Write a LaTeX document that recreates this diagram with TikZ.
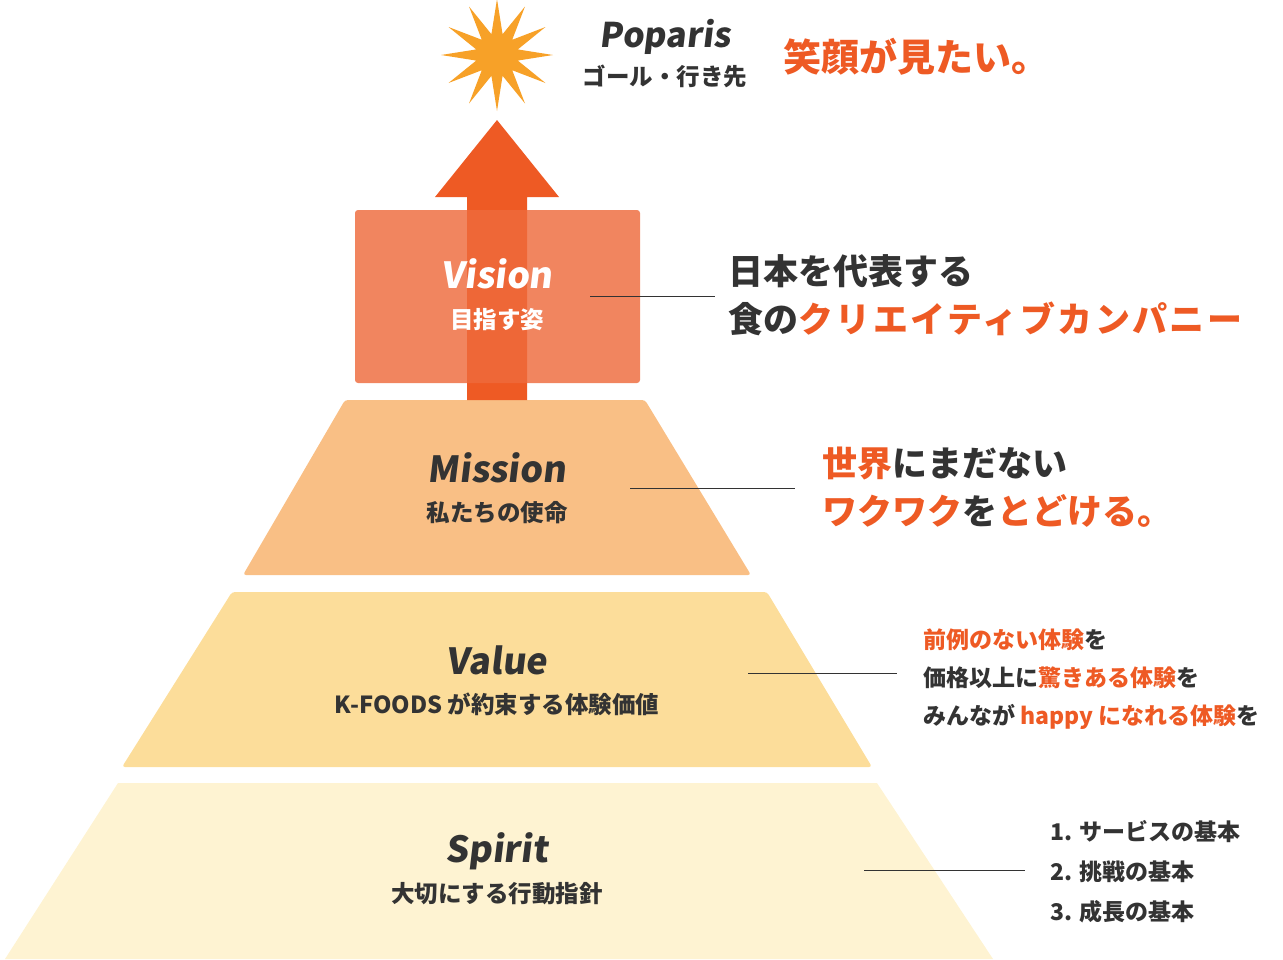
\documentclass[tikz,border=0pt]{standalone}
\usepackage{fontspec}
\setmainfont{Noto Sans CJK JP}
\newfontfamily\slantjp{Noto Sans CJK JP}[FakeSlant=0.12]
\usetikzlibrary{shapes.geometric}
\definecolor{ora}{HTML}{EE5A24}
\definecolor{txt}{HTML}{333333}
\definecolor{visc}{HTML}{EE6A3C}
\definecolor{misc}{HTML}{F9BF85}
\definecolor{valc}{HTML}{FCDD9A}
\definecolor{spic}{HTML}{FEF3D2}
\definecolor{starc}{HTML}{F7A128}
\tikzset{
  head/.style={font=\slantjp\fontsize{36}{40}\selectfont\bfseries, text=txt, inner sep=0},
  sub/.style={font=\fontsize{23.5}{26}\selectfont\bfseries, text=txt, inner sep=0},
  big/.style={font=\fontsize{35}{48}\selectfont\bfseries, text=txt, anchor=west, inner sep=0, align=left},
  small/.style={font=\fontsize{23}{38}\selectfont\bfseries, text=txt, anchor=west, inner sep=0, align=left},
  lead/.style={draw=txt, line width=0.9pt},
}
\begin{document}
\begin{tikzpicture}[x=1pt,y=-1pt]
\useasboundingbox (0,0) rectangle (1283,959);
\fill[spic] (118,783) -- (877,783) -- (993,959) -- (5,959) -- cycle;
\fill[valc, rounded corners=3] (232,592) -- (767,592) -- (872,767) -- (122,767) -- cycle;
\fill[misc, rounded corners=3] (345,400) -- (645,400) -- (751,575) -- (243,575) -- cycle;
\fill[ora] (467,400) -- (467,197) -- (435,197) -- (497,120) -- (559,197) -- (527,197) -- (527,400) -- cycle;
\fill[visc, opacity=0.82, rounded corners=3] (355,210) rectangle (640,383);
\node[star, star points=12, star point ratio=2.6, minimum size=112pt, fill=starc, inner sep=0] (star) at (497,55) {};
\node[head, text=white] (vis) at (497,274) {Vision};
\node[sub, text=white] (vissub) at (497,320) {目指す姿};
\node[head] (mis) at (497,468) {Mission};
\node[sub] (missub) at (497,513) {私たちの使命};
\node[head] (val) at (497,660) {Value};
\node[sub] (valsub) at (497,704) {K-FOODS が約束する体験価値};
\node[head] (spi) at (497,851) {Spirit};
\node[sub] (spisub) at (497,894) {大切にする行動指針};
\node[head, font=\slantjp\fontsize{34}{40}\selectfont\bfseries] (pop) at (665,37) {Poparis};
\node[sub] (popsub) at (665,76) {ゴール・行き先};
\node[font=\fontsize{38}{44}\selectfont\bfseries, text=ora, anchor=west, inner sep=0] (goal) at (783,57) {笑顔が見たい。};
\coordinate (v1) at (590,296); \coordinate (v2) at (715,296);
\coordinate (m1) at (630,488); \coordinate (m2) at (795,488);
\coordinate (a1) at (748,673); \coordinate (a2) at (897,673);
\coordinate (s1) at (864,870); \coordinate (s2) at (1025,870);
\draw[lead] (v1) -- (v2);
\draw[lead] (m1) -- (m2);
\draw[lead] (a1) -- (a2);
\draw[lead] (s1) -- (s2);
\node[big] (vt) at (728,295) {日本を代表する\\食の\textcolor{ora}{\addfontfeature{LetterSpace=7}クリエイティブカンパニー}};
\node[big] (mt) at (822,487) {\textcolor{ora}{世界}にまだない\\\textcolor{ora}{ワクワク}を\textcolor{ora}{とどける。}};
\node[small] (at) at (923,679) {\textcolor{ora}{前例のない体験}を\\価格以上に\textcolor{ora}{驚きある体験}を\\みんなが \textcolor{ora}{happy になれる体験}を};
\node[small, font=\fontsize{23}{40}\selectfont\bfseries] (st) at (1050,872) {1. サービスの基本\\2. 挑戦の基本\\3. 成長の基本};
\end{tikzpicture}
\end{document}
